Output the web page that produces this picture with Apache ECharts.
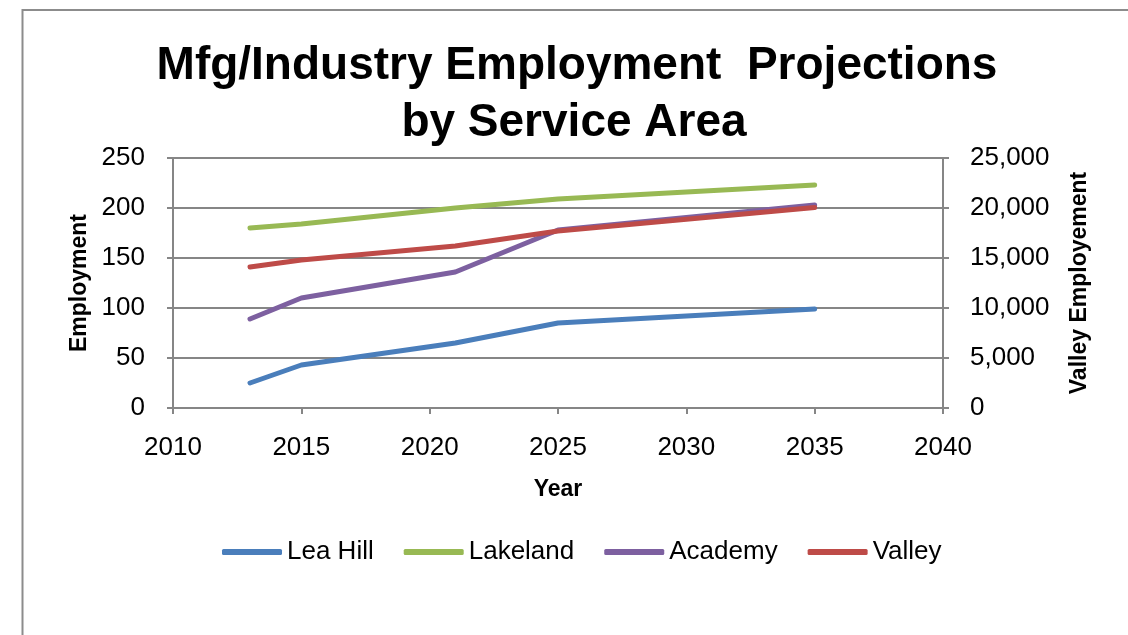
<!DOCTYPE html>
<html>
<head>
<meta charset="utf-8">
<script src="https://cdn.jsdelivr.net/npm/echarts@6/dist/echarts.min.js"></script>
<style>
  html, body { margin: 0; padding: 0; background: #ffffff; }
  #chart { width: 1128px; height: 635px; }
</style>
</head>
<body>
<div id="chart"></div>
<script>
// Projection years shared by every service area
const years = [2013, 2015, 2021, 2025, 2035];

// Employment per service area (left axis)
const leaHill  = [25, 43, 65, 85, 99];
const lakeland = [180, 184, 200, 209, 223];
const academy  = [89, 110, 136, 178, 203];

// Valley employment (right axis)
const valley   = [14100, 14800, 16200, 17700, 20050];

const seriesNames = ['Lea Hill', 'Lakeland', 'Academy', 'Valley'];
const seriesColors = ['#4a7ebb', '#98b954', '#7d60a0', '#be4b48'];

const titleLines = ['Mfg/Industry Employment  Projections', 'by Service Area'];

const FONT = '"Liberation Sans", Arial, sans-serif';
const AXIS_GRAY = '#868686';

function pairs(values) {
  return years.map((y, i) => [y, values[i]]);
}

function lineSeries(name, values, color, yAxisIndex) {
  return {
    name: name,
    type: 'line',
    yAxisIndex: yAxisIndex,
    data: pairs(values),
    showSymbol: false,
    symbol: 'none',
    smooth: false,
    lineStyle: { color: color, width: 5, cap: 'round', join: 'round' },
    itemStyle: { color: color },
    emphasis: { disabled: true },
    animation: false
  };
}

const chart = echarts.init(document.getElementById('chart'), null, { renderer: 'canvas' });

chart.setOption({
  backgroundColor: '#ffffff',
  animation: false,
  graphic: [
    {
      type: 'rect',
      shape: { x: 22.5, y: 10, width: 1200, height: 700 },
      style: { fill: 'none', stroke: '#8c8c8c', lineWidth: 2 },
      silent: true
    },
    {
      type: 'text',
      x: 577, y: 43,
      style: {
        text: titleLines[0],
        font: 'bold 46px ' + FONT,
        fill: '#000000',
        align: 'center',
        verticalAlign: 'top'
      }
    },
    {
      type: 'text',
      x: 574, y: 100,
      style: {
        text: titleLines[1],
        font: 'bold 46px ' + FONT,
        fill: '#000000',
        align: 'center',
        verticalAlign: 'top'
      }
    }
  ],
  grid: { left: 173, right: 185, top: 158, bottom: 227, containLabel: false },
  legend: {
    data: seriesNames,
    left: 217,
    top: 534,
    itemWidth: 60,
    itemHeight: 6,
    itemGap: 30,
    icon: 'roundRect',
    textStyle: { fontFamily: FONT, fontSize: 26, color: '#000000' },
    selectedMode: false
  },
  xAxis: {
    type: 'value',
    min: 2010,
    max: 2040,
    interval: 5,
    name: 'Year',
    nameLocation: 'middle',
    nameGap: 70,
    nameTextStyle: { fontFamily: FONT, fontSize: 23, fontWeight: 'bold', color: '#000000' },
    axisLine: { show: true, onZero: false, lineStyle: { color: AXIS_GRAY, width: 2 } },
    axisTick: { show: true, inside: false, length: 6, lineStyle: { color: AXIS_GRAY, width: 2 } },
    axisLabel: { fontFamily: FONT, fontSize: 26, color: '#000000', margin: 27, formatter: v => String(v) },
    splitLine: { show: false }
  },
  yAxis: [
    {
      type: 'value',
      position: 'left',
      min: 0,
      max: 250,
      interval: 50,
      name: 'Employment',
      nameLocation: 'middle',
      nameRotate: 90,
      nameGap: 82,
      nameTextStyle: { fontFamily: FONT, fontSize: 23, fontWeight: 'bold', color: '#000000' },
      axisLine: { show: true, lineStyle: { color: AXIS_GRAY, width: 2 } },
      axisTick: { show: true, inside: false, length: 6, lineStyle: { color: AXIS_GRAY, width: 2 } },
      axisLabel: { fontFamily: FONT, fontSize: 26, color: '#000000', margin: 28 },
      splitLine: { show: true, lineStyle: { color: AXIS_GRAY, width: 2 } }
    },
    {
      type: 'value',
      position: 'right',
      min: 0,
      max: 25000,
      interval: 5000,
      name: 'Valley Employement',
      nameLocation: 'middle',
      nameRotate: 90,
      nameGap: 125,
      nameTextStyle: { fontFamily: FONT, fontSize: 23, fontWeight: 'bold', color: '#000000' },
      axisLine: { show: true, lineStyle: { color: AXIS_GRAY, width: 2 } },
      axisTick: { show: true, inside: false, length: 6, lineStyle: { color: AXIS_GRAY, width: 2 } },
      axisLabel: {
        fontFamily: FONT, fontSize: 26, color: '#000000', margin: 27,
        formatter: v => v.toLocaleString('en-US')
      },
      splitLine: { show: false }
    }
  ],
  series: [
    lineSeries(seriesNames[0], leaHill, seriesColors[0], 0),
    lineSeries(seriesNames[1], lakeland, seriesColors[1], 0),
    lineSeries(seriesNames[2], academy, seriesColors[2], 0),
    lineSeries(seriesNames[3], valley, seriesColors[3], 1)
  ]
});
</script>
</body>
</html>
